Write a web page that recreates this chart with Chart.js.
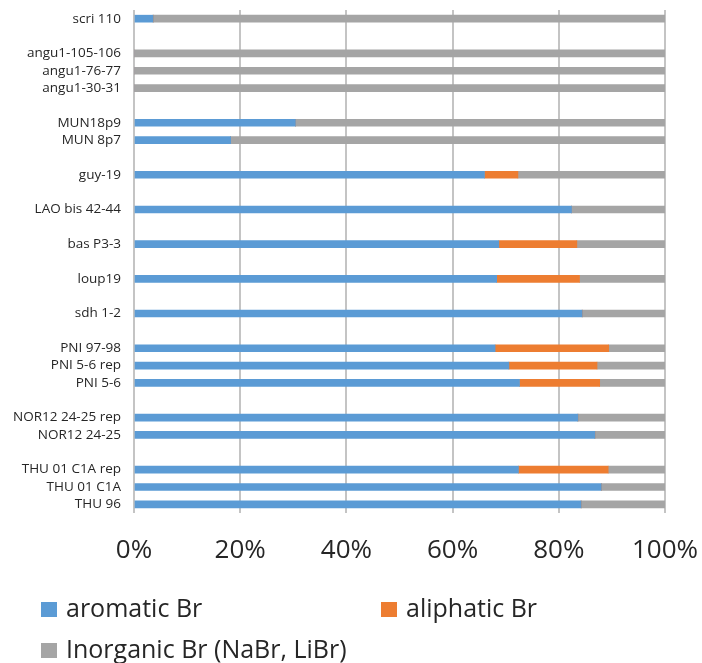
<!DOCTYPE html>
<html>
<head>
<meta charset="utf-8">
<script src="https://cdn.jsdelivr.net/npm/chart.js@4.4.1/dist/chart.umd.min.js"></script>
<style>
  html, body { margin: 0; padding: 0; background: #fff; }
  #wrap { position: relative; width: 702px; height: 663px; }
  #c { position: absolute; left: 0; top: 0; }
  .lg { position: absolute; font-family: "Open Sans", sans-serif; font-size: 25px; line-height: 24px; color: #262626; white-space: nowrap; }
  .sw { position: absolute; width: 16px; height: 15px; }
</style>
</head>
<body>
<div id="wrap">
  <canvas id="c" width="702" height="663"></canvas>
  <div class="sw" style="left:41px;top:602px;background:#5B9BD5"></div>
  <div class="lg" style="left:66px;top:595px">aromatic Br</div>
  <div class="sw" style="left:381px;top:602px;background:#ED7D31"></div>
  <div class="lg" style="left:406px;top:595px">aliphatic Br</div>
  <div class="sw" style="left:41px;top:643px;background:#A5A5A5"></div>
  <div class="lg" style="left:66px;top:636px">Inorganic Br (NaBr, LiBr)</div>
</div>
<script>
const categories = ["scri 110","","angu1-105-106","angu1-76-77","angu1-30-31","","MUN18p9","MUN 8p7","","guy-19","","LAO bis 42-44","","bas P3-3","","loup19","","sdh 1-2","","PNI 97-98","PNI 5-6 rep","PNI 5-6","","NOR12 24-25 rep","NOR12 24-25","","THU 01 C1A rep","THU 01 C1A","THU 96"];
const aromaticBr  = [3.6,null,0,0,0,null,30.4,18.2,null,66.0,null,82.4,null,68.7,null,68.3,null,84.4,null,68.0,70.6,72.6,null,83.6,86.8,null,72.4,88.0,84.2];
const aliphaticBr = [0,null,0,0,0,null,0,0,null,6.3,null,0,null,14.7,null,15.6,null,0,null,21.4,16.6,15.1,null,0,0,null,16.9,0,0];
const inorganicBr = [96.4,null,100,100,100,null,69.6,81.8,null,27.7,null,17.6,null,16.6,null,16.1,null,15.6,null,10.6,12.8,12.3,null,16.4,13.2,null,10.7,12.0,15.8];
const xTicks = [0,20,40,60,80,100];

new Chart(document.getElementById('c'), {
  type: 'bar',
  data: {
    labels: categories,
    datasets: [
      { label: 'aromatic Br', data: aromaticBr, backgroundColor: '#5B9BD5' },
      { label: 'aliphatic Br', data: aliphaticBr, backgroundColor: '#ED7D31' },
      { label: 'Inorganic Br (NaBr, LiBr)', data: inorganicBr, backgroundColor: '#A5A5A5' }
    ]
  },
  options: {
    indexAxis: 'y',
    responsive: false,
    animation: false,
    devicePixelRatio: 1,
    datasets: { bar: { barThickness: 7, borderWidth: 0, borderSkipped: false } },
    layout: { padding: { top: 10, right: 37, left: 0, bottom: 0 } },
    plugins: { legend: { display: false }, tooltip: { enabled: false } },
    scales: {
      x: {
        stacked: true,
        min: 0, max: 100,
        afterBuildTicks: s => { s.ticks = xTicks.map(v => ({ value: v })); },
        afterFit: s => { s.height = 150; s.paddingLeft = 0; s.paddingRight = 0; },
        grid: { color: '#C4C4C4', lineWidth: 2, drawTicks: false },
        border: { display: false },
        ticks: {
          padding: 22,
          color: '#262626',
          font: { family: 'Open Sans', size: 26 },
          callback: v => v + '%'
        }
      },
      y: {
        stacked: true,
        afterFit: s => { s.width = 134; s.paddingTop = 0; s.paddingBottom = 0; },
        grid: { display: false, drawTicks: false },
        border: { display: false },
        ticks: {
          autoSkip: false,
          padding: 13,
          color: '#262626',
          font: { family: 'Open Sans', size: 13.5 }
        }
      }
    }
  }
});
</script>
</body>
</html>
